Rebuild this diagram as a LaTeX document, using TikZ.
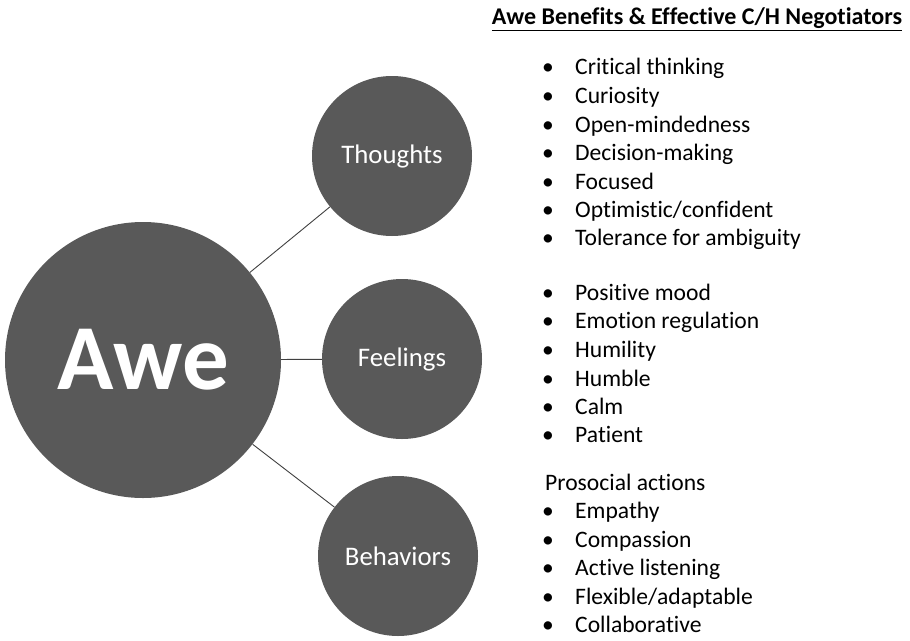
\documentclass[tikz,border=0pt]{standalone}
\usepackage{fontspec}
\setmainfont{Carlito}[Ligatures=NoCommon]
\definecolor{bubblegray}{HTML}{595959}
\begin{document}
\begin{tikzpicture}[x=1pt,y=-1pt,
  bubble/.style={circle, fill=bubblegray, draw=none, text=white, inner sep=0pt},
  link/.style={draw=black!75, line width=0.9pt},
  item/.style={anchor=mid west, inner sep=0pt, font=\fontsize{23.6}{28}\selectfont},
  dot/.style={anchor=mid, inner sep=0pt, font=\fontsize{23.5}{28}\selectfont}]
\useasboundingbox (0,0) rectangle (910,640);
\node[bubble, minimum size=276pt, font=\bfseries\fontsize{93}{95}\selectfont] (awe) at (143,360) {Awe};
\node[bubble, minimum size=160pt, font=\fontsize{26.8}{30}\selectfont] (th) at (392,156) {Thoughts};
\node[bubble, minimum size=160pt, font=\fontsize{26.8}{30}\selectfont] (fe) at (402,359) {Feelings};
\node[bubble, minimum size=160pt, font=\fontsize{26.8}{30}\selectfont] (be) at (398,556) {Behaviors};
\draw[link] (awe) -- (th);
\draw[link] (awe) -- (fe);
\draw[link] (awe) -- (be);
\node[anchor=mid, inner sep=0pt, font=\bfseries\fontsize{24}{28}\selectfont] (title) at (697,22) {\underline{Awe Benefits \& Effective C/H Negotiators}};
\foreach \t/\y [count=\i] in {Critical thinking/67, Curiosity/96, Open-mindedness/125, Decision-making/153, Focused/182, Optimistic\slash confident/210, Tolerance for ambiguity/238, Positive mood/293, Emotion regulation/321, Humility/350, Humble/379, Calm/407, Patient/435, Empathy/511, Compassion/540, Active listening/568, Flexible\slash adaptable/597, Collaborative/625}{
  \node[dot] (b\i) at (548,\y+5) {•};
  \node[item] (t\i) at (575,\y+5) {\t};
}
\node[item] (pro) at (545,488) {Prosocial actions};
\end{tikzpicture}
\end{document}
